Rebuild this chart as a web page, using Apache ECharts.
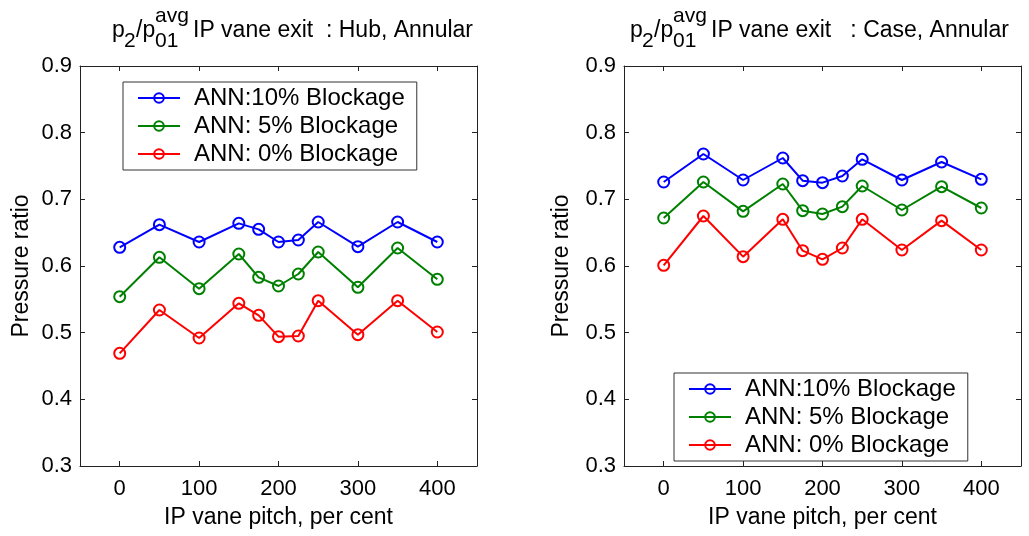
<!DOCTYPE html>
<html>
<head>
<meta charset="utf-8">
<script src="https://cdn.jsdelivr.net/npm/echarts@6/dist/echarts.min.js"></script>
<style>
  html, body { margin: 0; padding: 0; background: #fff; }
  #chart { width: 1029px; height: 536px; }
</style>
</head>
<body>
<div id="chart"></div>
<script>
// data
const pitch = [0, 50, 100, 150, 175, 200, 225, 250, 300, 350, 400];
const seriesNames = ["ANN:10% Blockage", "ANN: 5% Blockage", "ANN: 0% Blockage"];
const colors = ["#0000ff", "#008000", "#ff0000"];

const hub10 = [0.628, 0.662, 0.636, 0.664, 0.655, 0.636, 0.639, 0.666, 0.629, 0.666, 0.636];
const hub5 = [0.554, 0.613, 0.566, 0.618, 0.583, 0.570, 0.588, 0.621, 0.568, 0.627, 0.580];
const hub0 = [0.469, 0.534, 0.492, 0.544, 0.526, 0.494, 0.495, 0.548, 0.497, 0.548, 0.501];

const case10 = [0.726, 0.768, 0.729, 0.762, 0.728, 0.725, 0.735, 0.760, 0.729, 0.756, 0.730];
const case5 = [0.672, 0.726, 0.682, 0.723, 0.683, 0.678, 0.689, 0.720, 0.684, 0.719, 0.687];
const case0 = [0.601, 0.675, 0.614, 0.670, 0.623, 0.610, 0.627, 0.670, 0.624, 0.668, 0.624];

const xTicks = [0, 100, 200, 300, 400];
const xName = "IP vane pitch, per cent";
const yName = "Pressure ratio";

const FONT = "'Liberation Sans', Arial, Helvetica, sans-serif";
const AXIS_COLOR = "#222";

const dom = document.getElementById("chart");
const myChart = echarts.init(dom);

const grids = [
  { left: 80, top: 66, width: 397, height: 400 },
  { left: 624, top: 66, width: 397, height: 400 },
];

function xAxisFor(gridIndex, pos) {
  const main = pos === "bottom";
  return {
    type: "value",
    gridIndex: gridIndex,
    position: pos,
    min: -50,
    max: 450,
    name: main ? xName : "",
    nameLocation: "middle",
    nameGap: 40,
    nameTextStyle: { fontSize: 23, fontFamily: FONT, color: "#000" },
    axisLine: { show: true, onZero: false, lineStyle: { color: AXIS_COLOR, width: 1 } },
    axisTick: { show: true, inside: true, length: 5, customValues: xTicks, lineStyle: { color: AXIS_COLOR } },
    axisLabel: {
      show: main,
      customValues: xTicks,
      margin: 12,
      fontSize: 22,
      fontFamily: FONT,
      color: "#000",
    },
    splitLine: { show: false },
  };
}

function yAxisFor(gridIndex, pos, gap) {
  const main = pos === "left";
  return {
    type: "value",
    gridIndex: gridIndex,
    position: pos,
    min: 0.3,
    max: 0.9,
    interval: 0.1,
    name: main ? yName : "",
    nameLocation: "middle",
    nameGap: gap,
    nameTextStyle: { fontSize: 23, fontFamily: FONT, color: "#000" },
    axisLine: { show: true, onZero: false, lineStyle: { color: AXIS_COLOR, width: 1 } },
    axisTick: { show: true, inside: true, length: 5, lineStyle: { color: AXIS_COLOR } },
    axisLabel: {
      show: main,
      margin: 8,
      fontSize: 22,
      fontFamily: FONT,
      color: "#000",
      formatter: (v) => v.toFixed(1),
    },
    splitLine: { show: false },
  };
}

function makeSeries(values, i, axisIndex) {
  return {
    type: "line",
    name: seriesNames[i],
    xAxisIndex: axisIndex,
    yAxisIndex: axisIndex,
    data: pitch.map((x, k) => [x, values[k]]),
    color: colors[i],
    symbol: "circle",
    symbolSize: 11,
    itemStyle: { color: "rgba(255,255,255,0)", borderColor: colors[i], borderWidth: 2 },
    lineStyle: { color: colors[i], width: 2 },
    emphasis: { disabled: true },
    animation: false,
  };
}

function legendAt(left, top) {
  return {
    left: left,
    top: top,
    orient: "vertical",
    data: seriesNames,
    itemWidth: 42,
    itemHeight: 12,
    itemGap: 4,
    padding: [4, 12, 4, 14],
    borderColor: "#333",
    borderWidth: 1,
    backgroundColor: "#fff",
    textStyle: { fontSize: 24, fontFamily: FONT, color: "#000", padding: [0, 0, 0, 9] },
  };
}

// title pieces: p_2 / p_01^avg ...
function titleParts(x0, rest) {
  const big = "23px " + FONT;
  const small = "21px " + FONT;
  const t = (x, y, text, font) => ({
    type: "text",
    left: x,
    top: y,
    style: { text: text, font: font, fill: "#000" },
  });
  return [
    t(x0, 19, "p", big),
    t(x0 + 12, 31, "2", small),
    t(x0 + 24, 19, "/p", big),
    t(x0 + 43, 31, "01", small),
    t(x0 + 43, 6, "avg", small),
    t(x0 + 81, 19, rest, big),
  ];
}

const option = {
  backgroundColor: "#fff",
  animation: false,
  grid: grids,
  xAxis: [
    xAxisFor(0, "bottom"),
    xAxisFor(0, "top"),
    xAxisFor(1, "bottom"),
    xAxisFor(1, "top"),
  ],
  yAxis: [
    yAxisFor(0, "left", 47),
    yAxisFor(0, "right", 0),
    yAxisFor(1, "left", 51),
    yAxisFor(1, "right", 0),
  ],
  legend: [legendAt(123, 82), legendAt(674, 373)],
  graphic: [
    ...titleParts(112, "IP vane exit  : Hub, Annular"),
    ...titleParts(630, "IP vane exit   : Case, Annular"),
  ],
  series: [
    makeSeries(hub10, 0, 0),
    makeSeries(hub5, 1, 0),
    makeSeries(hub0, 2, 0),
    makeSeries(case10, 0, 2),
    makeSeries(case5, 1, 2),
    makeSeries(case0, 2, 2),
  ],
};

option && myChart.setOption(option);
</script>
</body>
</html>
